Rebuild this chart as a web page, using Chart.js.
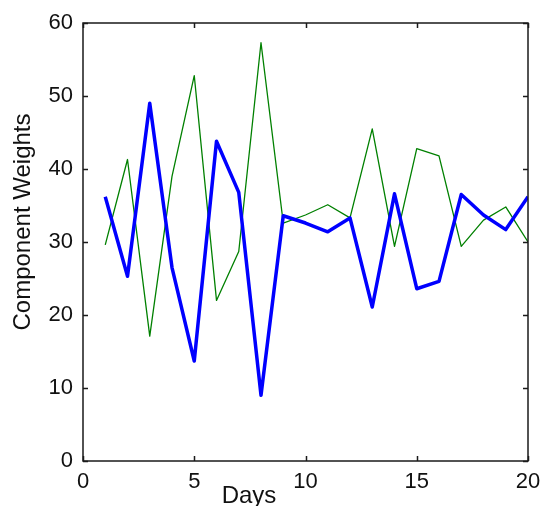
<!DOCTYPE html>
<html lang="en">
  <head>
    <meta charset="UTF-8" />
    <title>Component Weights</title>
    <script src="https://cdn.jsdelivr.net/npm/chart.js@4.4.1/dist/chart.umd.min.js"></script>
    <style>
      html, body { margin: 0; padding: 0; background: #fff; }
      #wrap { width: 542px; height: 506px; }
    </style>
  </head>
  <body>
    <div id="wrap"><canvas id="chart" width="542" height="506"></canvas></div>
    <script>
      // 데이터
      const days = [1, 2, 3, 4, 5, 6, 7, 8, 9, 10, 11, 12, 13, 14, 15, 16, 17, 18, 19, 20];
      const blueWeights = [36.2, 25.3, 49.0, 26.5, 13.7, 43.8, 36.8, 9.0, 33.6, 32.6, 31.4, 33.3, 21.1, 36.6, 23.6, 24.6, 36.5, 33.7, 31.7, 36.2];
      const greenWeights = [29.6, 41.3, 17.1, 39.0, 52.8, 22.0, 28.7, 57.3, 32.6, 33.7, 35.1, 33.3, 45.5, 29.4, 42.8, 41.8, 29.4, 33.0, 34.8, 30.0];
      const xTicks = [0, 5, 10, 15, 20];
      const yTicks = [0, 10, 20, 30, 40, 50, 60];

      const FONT = 'Liberation Sans, Arial, sans-serif';

      // 축 상자, 안쪽 눈금, 축 제목
      const matlabAxes = {
        id: 'matlabAxes',
        afterDatasetsDraw(chart) {
          const { ctx, chartArea: a, scales: { x, y } } = chart;
          ctx.save();
          ctx.strokeStyle = '#1a1a1a';
          ctx.lineWidth = 1.5;
          ctx.strokeRect(a.left, a.top, a.right - a.left, a.bottom - a.top);
          ctx.beginPath();
          xTicks.forEach((t) => {
            const px = Math.round(x.getPixelForValue(t)) + 0.5;
            ctx.moveTo(px, a.bottom); ctx.lineTo(px, a.bottom - 5);
            ctx.moveTo(px, a.top); ctx.lineTo(px, a.top + 5);
          });
          yTicks.forEach((t) => {
            const py = Math.round(y.getPixelForValue(t)) + 0.5;
            ctx.moveTo(a.left, py); ctx.lineTo(a.left + 5, py);
            ctx.moveTo(a.right, py); ctx.lineTo(a.right - 5, py);
          });
          ctx.stroke();

          ctx.fillStyle = '#111';
          ctx.font = '24px ' + FONT;
          ctx.textAlign = 'center';
          ctx.textBaseline = 'alphabetic';
          ctx.fillText('Days', 249, 503);

          ctx.translate(30, 222);
          ctx.rotate(-Math.PI / 2);
          ctx.fillText('Component Weights', 0, 0);
          ctx.restore();
        }
      };

      const ctx = document.getElementById('chart').getContext('2d');
      const chart = new Chart(ctx, {
        type: 'line',
        data: {
          datasets: [
            {
              label: 'blue',
              data: days.map((d, i) => ({ x: d, y: blueWeights[i] })),
              borderColor: '#0000ff',
              borderWidth: 3.5,
              borderJoinStyle: 'round',
              pointRadius: 0,
              tension: 0
            },
            {
              label: 'green',
              data: days.map((d, i) => ({ x: d, y: greenWeights[i] })),
              borderColor: '#008000',
              borderWidth: 1.3,
              borderJoinStyle: 'round',
              pointRadius: 0,
              tension: 0
            }
          ]
        },
        options: {
          responsive: false,
          animation: false,
          layout: { padding: { top: 23, right: 14, left: 0, bottom: 0 } },
          plugins: {
            legend: { display: false },
            tooltip: { enabled: false }
          },
          scales: {
            x: {
              type: 'linear',
              min: 0,
              max: 20,
              afterBuildTicks: (s) => { s.ticks = xTicks.map((v) => ({ value: v })); },
              afterFit: (s) => { s.height = 45; s.paddingLeft = 0; s.paddingRight = 0; },
              grid: { display: false, drawTicks: false },
              border: { display: false },
              ticks: { color: '#111', font: { family: FONT, size: 22 }, padding: 8, maxRotation: 0 }
            },
            y: {
              min: 0,
              max: 60,
              afterBuildTicks: (s) => { s.ticks = yTicks.map((v) => ({ value: v })); },
              afterFit: (s) => { s.width = 83; s.paddingTop = 0; s.paddingBottom = 0; },
              grid: { display: false, drawTicks: false },
              border: { display: false },
              ticks: { color: '#111', font: { family: FONT, size: 22 }, padding: 10 }
            }
          }
        },
        plugins: [matlabAxes]
      });
    </script>
  </body>
</html>
